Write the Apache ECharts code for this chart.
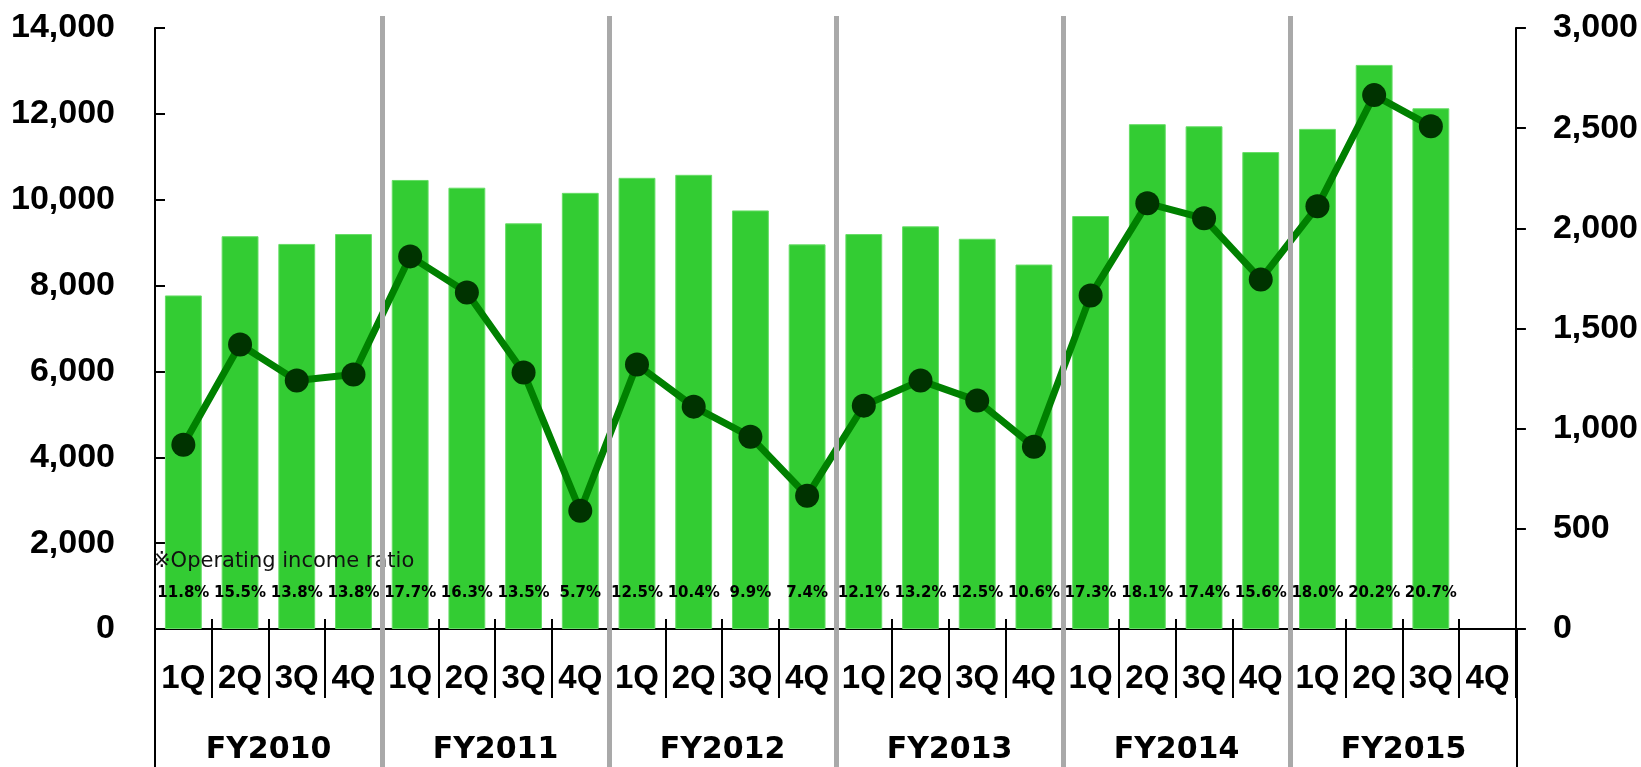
<!DOCTYPE html>
<html>
<head>
<meta charset="utf-8">
<script src="https://cdn.jsdelivr.net/npm/echarts@6/dist/echarts.min.js"></script>
<style>
html,body{margin:0;padding:0;background:#fff;}
#main{width:1641px;height:767px;}
</style>
</head>
<body>
<div id="main"></div>
<script>
//四半期ごとの売上高（左軸）と営業利益（右軸）
var years=["FY2010","FY2011","FY2012","FY2013","FY2014","FY2015"];
var quarterLabels=["1Q","2Q","3Q","4Q","1Q","2Q","3Q","4Q","1Q","2Q","3Q","4Q",
    "1Q","2Q","3Q","4Q","1Q","2Q","3Q","4Q","1Q","2Q","3Q","4Q"];
var netSales=[7770,9150,8970,9200, 10460,10280,9450,10160, 10510,10580,9750,8960,
    9200,9380,9090,8490, 9620,11760,11710,11110, 11650,13140,12130,null];
var operatingIncome=[920,1420,1240,1270, 1860,1680,1280,590, 1320,1110,960,665,
    1115,1240,1140,910, 1665,2125,2050,1745, 2110,2665,2510,null];
var ratioLabels=["11.8%","15.5%","13.8%","13.8%","17.7%","16.3%","13.5%","5.7%",
    "12.5%","10.4%","9.9%","7.4%","12.1%","13.2%","12.5%","10.6%",
    "17.3%","18.1%","17.4%","15.6%","18.0%","20.2%","20.7%",""];
var leftTicks={min:0,max:14000,interval:2000};
var rightTicks={min:0,max:3000,interval:500};

var qPerYear=quarterLabels.length/years.length;
var yearBreaks=[];  //年度の区切り
for(var i=1;i<years.length;i++){
    yearBreaks.push(i*qPerYear);
}

var myChart=echarts.init(document.getElementById('main'));
var option={
    animation:false,
    backgroundColor:'#ffffff',
    title:{
        text:'※Operating income ratio',
        left:153,
        top:551,
        padding:0,
        textStyle:{fontFamily:'DejaVu Sans',fontWeight:'normal',fontSize:21,color:'#111'}
    },
    grid:[
        {left:155,right:124,top:28,bottom:138},
        {left:155,right:124,top:16,bottom:0},
        {left:155,right:124,top:629,bottom:0}
    ],
    xAxis:[
        {
            //四半期ラベルと下側の区切り線
            type:'category',
            gridIndex:0,
            position:'bottom',
            data:quarterLabels,
            axisLine:{lineStyle:{color:'#000',width:2}},
            axisTick:{show:true,inside:false,length:69,interval:0,lineStyle:{color:'#000',width:2}},
            axisLabel:{
                interval:0,margin:33,color:'#000',
                fontFamily:'Liberation Sans',fontWeight:'bold',fontSize:33
            }
        },
        {
            //軸線の上に出る短い目盛り
            type:'category',
            gridIndex:0,
            position:'bottom',
            data:quarterLabels,
            axisLine:{show:false},
            axisTick:{show:true,inside:true,length:10,interval:0,lineStyle:{color:'#000',width:2}},
            axisLabel:{show:false}
        },
        {
            //年度の区切り線（グレー）
            type:'value',
            gridIndex:1,
            position:'bottom',
            min:0,
            max:quarterLabels.length,
            z:10,
            axisLine:{show:false},
            splitLine:{show:false},
            axisTick:{show:true,inside:true,length:751,customValues:yearBreaks,
                lineStyle:{color:'#a9a9a9',width:5}},
            axisLabel:{show:false}
        },
        {
            //左右の縦線を下まで延ばす
            type:'value',
            gridIndex:2,
            position:'bottom',
            min:0,
            max:quarterLabels.length,
            axisLine:{show:false},
            splitLine:{show:false},
            axisTick:{show:true,inside:true,length:138,customValues:[0,quarterLabels.length],
                lineStyle:{color:'#000',width:2}},
            axisLabel:{show:false}
        },
        {
            //年度ラベル
            type:'category',
            gridIndex:2,
            position:'bottom',
            data:years,
            axisLine:{show:false},
            axisTick:{show:false},
            axisLabel:{
                inside:true,margin:2,interval:0,color:'#000',
                fontFamily:'DejaVu Sans',fontWeight:'bold',fontSize:30
            }
        }
    ],
    yAxis:[
        {
            type:'value',
            gridIndex:0,
            position:'left',
            min:leftTicks.min,max:leftTicks.max,interval:leftTicks.interval,
            axisLine:{show:true,lineStyle:{color:'#000',width:2}},
            axisTick:{show:true,inside:true,length:10,lineStyle:{color:'#000',width:2}},
            splitLine:{show:false},
            axisLabel:{
                margin:40,color:'#000',fontFamily:'Liberation Sans',fontWeight:'bold',fontSize:34,
                formatter:function(v){return v.toLocaleString('en-US');}
            }
        },
        {
            type:'value',
            gridIndex:0,
            position:'right',
            min:rightTicks.min,max:rightTicks.max,interval:rightTicks.interval,
            axisLine:{show:true,lineStyle:{color:'#000',width:2}},
            axisTick:{show:true,inside:false,length:10,lineStyle:{color:'#000',width:2}},
            splitLine:{show:false},
            axisLabel:{
                margin:37,color:'#000',fontFamily:'Liberation Sans',fontWeight:'bold',fontSize:34,
                formatter:function(v){return v.toLocaleString('en-US');}
            }
        },
        {type:'value',gridIndex:1,show:false},
        {type:'value',gridIndex:2,show:false}
    ],
    series:[
        {
            name:'Net sales',
            type:'bar',
            xAxisIndex:0,
            yAxisIndex:0,
            data:netSales,
            barWidth:'65%',
            itemStyle:{color:'#33cc33',borderColor:'#66dd66',borderWidth:1},
            label:{
                show:true,
                position:'insideBottom',
                distance:28,
                color:'#000',
                fontFamily:'DejaVu Sans',
                fontWeight:'bold',
                fontSize:15,
                formatter:function(p){return ratioLabels[p.dataIndex];}
            }
        },
        {
            name:'Operating income',
            type:'line',
            xAxisIndex:0,
            yAxisIndex:1,
            data:operatingIncome,
            symbol:'circle',
            symbolSize:24,
            lineStyle:{color:'#008000',width:7},
            itemStyle:{color:'#003300'}
        }
    ]
};
myChart.setOption(option);
</script>
</body>
</html>
